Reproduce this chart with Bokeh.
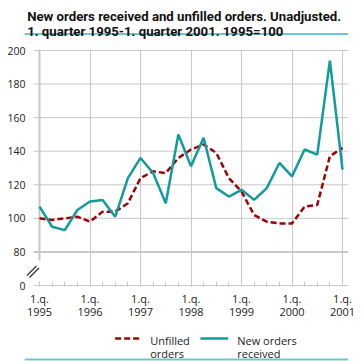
from bokeh.plotting import figure
from bokeh.models import Range1d, FixedTicker, Label
from bokeh.layouts import column
from bokeh.embed import file_html
from bokeh.resources import INLINE

# ---- data ----
quarters = list(range(25))  # 1995Q1 .. 2001Q1
years = ["1995", "1996", "1997", "1998", "1999", "2000", "2001"]
new_orders = [107, 95, 93, 105, 110, 111, 101, 124, 136, 127, 109, 150, 131,
              148, 118, 113, 117, 111, 118, 133, 125, 141, 138, 194, 129]
unfilled = [100, 99, 100, 101, 98, 104, 104, 109, 124, 128, 127, 136, 141,
            144, 139, 124, 116, 102, 98, 97, 97, 107, 108, 137, 142]
y_ticks = [60, 80, 100, 120, 140, 160, 180, 200]
y_labels = ["0", "80", "100", "120", "140", "160", "180", "200"]
title1 = "New orders received and unfilled orders. Unadjusted."
title2 = "1. quarter 1995-1. quarter 2001. 1995=100"
legend_unfilled = ["Unfilled", "orders"]
legend_new = ["New orders", "received"]

# ---- geometry helpers (page pixel -> data of the chart) ----
QPX = 12.625          # px per quarter
X0 = 39               # px of 1995Q1
PPU = (285 - 50) / 140.0


def dx(px):
    return (px - X0) / QPX


def dy(py):
    return 60 + (285 - py) / PPU


TEAL = "#119b9b"
RED = "#a00000"
GRID = "#c8c8c8"
RULE = "#6cc9c9"
FONT = "Open Sans"
TXT = "#222222"
W = 361

# ---------------- title strip ----------------
H1 = 41
top = figure(width=W, height=H1, output_backend="svg", toolbar_location=None,
             x_range=Range1d(0, W), y_range=Range1d(H1, 0),
             x_axis_type=None, y_axis_type=None,
             min_border_left=0, min_border_right=0, min_border_top=0,
             min_border_bottom=0)
top.outline_line_color = None
top.grid.grid_line_color = None
for txt, by in [(title1, 16), (title2, 30.5)]:
    top.add_layout(Label(x=3, y=by, text=txt, text_font="Roboto",
                         text_font_style="bold", text_font_size="13.2px",
                         text_baseline="alphabetic", text_color="#111111"))
top.segment(x0=[0], y0=[33.5], x1=[W], y1=[33.5], line_color=RULE, line_width=2)

# ---------------- chart ----------------
Y_OFF = 41
H2 = 281
FL, FR, FT, FB = 24, 348, 49, 286
p = figure(width=W, height=H2, output_backend="svg", toolbar_location=None,
           x_range=Range1d(dx(FL), dx(FR)), y_range=Range1d(dy(FB), dy(FT)),
           min_border_left=FL, min_border_right=W - FR,
           min_border_top=FT - Y_OFF, min_border_bottom=Y_OFF + H2 - FB)
p.outline_line_color = None

p.yaxis.ticker = FixedTicker(ticks=y_ticks)
p.yaxis.major_label_overrides = {t: l for t, l in zip(y_ticks, y_labels)}
p.yaxis.axis_line_color = None
p.yaxis.major_tick_line_color = None
p.yaxis.minor_tick_line_color = None
p.yaxis.major_tick_out = 0
p.yaxis.major_tick_in = 0
p.yaxis.major_label_standoff = -1
p.yaxis.major_label_text_font = FONT
p.yaxis.major_label_text_font_size = "10.5px"
p.yaxis.major_label_text_color = TXT

year_ticks = [4 * i for i in range(len(years))]
p.xaxis.ticker = FixedTicker(ticks=year_ticks, minor_ticks=quarters)
p.xaxis.major_label_overrides = {t: "1.q.\n" + y for t, y in zip(year_ticks, years)}
p.xaxis.axis_line_color = None
p.xaxis.major_tick_in = 5
p.xaxis.major_tick_out = 0
p.xaxis.minor_tick_in = 5
p.xaxis.minor_tick_out = 0
p.xaxis.major_tick_line_color = GRID
p.xaxis.minor_tick_line_color = GRID
p.xaxis.major_label_standoff = 4
p.xaxis.major_label_text_font = FONT
p.xaxis.major_label_text_font_size = "11px"
p.xaxis.major_label_text_line_height = 0.93
p.xaxis.major_label_text_color = TXT

p.xgrid.ticker = FixedTicker(ticks=year_ticks[1:])
p.xgrid.grid_line_color = GRID
p.ygrid.grid_line_color = None

# horizontal grid lines and bottom axis line (start at the tick stubs)
hx0 = dx(33)
hx1 = dx(FR)
p.segment(x0=[hx0] * len(y_ticks), y0=y_ticks, x1=[hx1] * len(y_ticks), y1=y_ticks,
          line_color=GRID, line_width=[1, 2, 1, 1, 1, 1, 1, 1])
# broken y axis line
p.segment(x0=[0], y0=[dy(260)], x1=[0], y1=[dy(FT)], line_color=GRID, line_width=2)

# data
p.line(quarters, unfilled, line_color=RED, line_width=2.5, line_dash="6 3")
p.line(quarters, new_orders, line_color=TEAL, line_width=2.5)

# axis break marks
bx0 = [dx(26.5), dx(29)]
by0 = [dy(275), dy(277)]
bx1 = [dx(36), dx(38.5)]
by1 = [dy(265.5), dy(267.5)]
p.segment(x0=bx0, y0=by0, x1=bx1, y1=by1, line_color="#333333", line_width=1.3)

# ---------------- legend strip ----------------
Y_OFF3 = Y_OFF + H2
H3 = W - Y_OFF3
bot = figure(width=W, height=H3, output_backend="svg", toolbar_location=None,
             x_range=Range1d(0, W), y_range=Range1d(H3, 0),
             x_axis_type=None, y_axis_type=None,
             min_border_left=0, min_border_right=0, min_border_top=0,
             min_border_bottom=0)
bot.outline_line_color = None
bot.grid.grid_line_color = None
bot.segment(x0=[101], y0=[338 - Y_OFF3], x1=[131], y1=[338 - Y_OFF3],
            line_color=RED, line_width=2.5, line_dash="6 3")
bot.segment(x0=[196], y0=[338 - Y_OFF3], x1=[227], y1=[338 - Y_OFF3],
            line_color=TEAL, line_width=2.5)
for lines, lx in [(legend_unfilled, 140), (legend_new, 237)]:
    for k, t in enumerate(lines):
        bot.add_layout(Label(x=lx, y=340 + 12.5 * k - Y_OFF3, text=t, text_font=FONT,
                             text_font_size="11px", text_baseline="alphabetic",
                             text_color=TXT))
bot.segment(x0=[0], y0=[359 - Y_OFF3], x1=[W], y1=[359 - Y_OFF3],
            line_color=RULE, line_width=2)

layout = column(top, p, bot, spacing=0)
open("out.html", "w").write(file_html(layout, INLINE))
